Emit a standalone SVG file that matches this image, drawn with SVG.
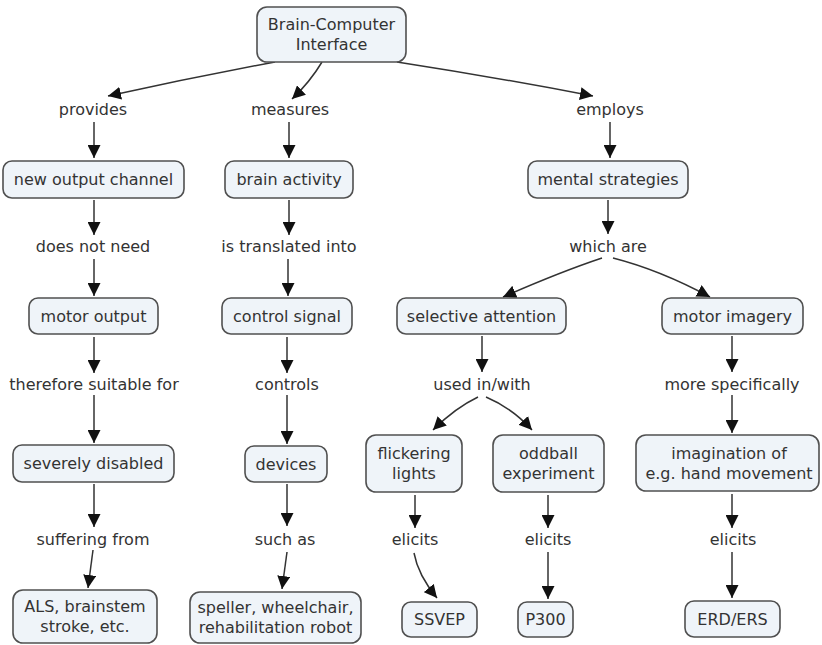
<svg xmlns="http://www.w3.org/2000/svg" width="822" height="645" viewBox="0 0 822 645">
  <style>
    .node rect { fill: #eff4f9; stroke: #505050; stroke-width: 1.6; }
    .node text, .label { font-family: "DejaVu Sans", Verdana, sans-serif; font-size: 16px; fill: #333; text-anchor: middle; }
    .edges path { fill: none; stroke: #333; stroke-width: 1.5; marker-end: url(#arrow); }
  </style>
  <defs>
    <marker id="arrow" viewBox="0 0 12 12" refX="12" refY="6" markerWidth="13" markerHeight="13" markerUnits="userSpaceOnUse" orient="auto">
      <path d="M0,0 L12,6 L0,12 z" fill="#111"/>
    </marker>
  </defs>
  <rect width="822" height="645" fill="#fff"/>

  <!-- connectors -->
  <g class="edges">
    <path d="M275,62 Q190,78 108,96"/>
    <path d="M322,62 Q310,82 292,99"/>
    <path d="M397,62 Q500,78 593,96"/>
    <path d="M94,122 L94,158"/>
    <path d="M289,122 L289,158"/>
    <path d="M610,122 L610,158"/>
    <path d="M94,200 L94,235"/>
    <path d="M289,200 L289,235"/>
    <path d="M608,200 L608,234"/>
    <path d="M94,259 L94,296"/>
    <path d="M288,259 L288,296"/>
    <path d="M602,258 Q560,272 503,297"/>
    <path d="M613,258 Q660,270 710,297"/>
    <path d="M94,337 L94,373"/>
    <path d="M287,337 L287,373"/>
    <path d="M482,336 L482,372"/>
    <path d="M732,336 L732,372"/>
    <path d="M94,395 L94,443"/>
    <path d="M287,395 L287,444"/>
    <path d="M478,397 Q455,408 433,430"/>
    <path d="M486,397 Q512,408 532,430"/>
    <path d="M732,395 L732,433"/>
    <path d="M94,484 L94,527"/>
    <path d="M287,484 L287,526"/>
    <path d="M415,495 L415,528"/>
    <path d="M548,495 L548,528"/>
    <path d="M732,494 L732,528"/>
    <path d="M93,550 L88,588"/>
    <path d="M287,552 L282,589"/>
    <path d="M414,553 Q418,575 437,598"/>
    <path d="M548,552 L548,599"/>
    <path d="M732,552 L732,598"/>
  </g>

  <!-- linking phrases -->
  <g id="labels">
    <text class="label" x="93" y="115">provides</text>
    <text class="label" x="290" y="115">measures</text>
    <text class="label" x="610" y="115">employs</text>
    <text class="label" x="93" y="252">does not need</text>
    <text class="label" x="289" y="252">is translated into</text>
    <text class="label" x="608" y="252">which are</text>
    <text class="label" x="94" y="390">therefore suitable for</text>
    <text class="label" x="287" y="390">controls</text>
    <text class="label" x="482" y="390">used in/with</text>
    <text class="label" x="732" y="390">more specifically</text>
    <text class="label" x="93" y="545">suffering from</text>
    <text class="label" x="285" y="545">such as</text>
    <text class="label" x="415" y="545">elicits</text>
    <text class="label" x="548" y="545">elicits</text>
    <text class="label" x="733" y="545">elicits</text>
  </g>

  <!-- concepts -->
  <g id="bci" class="node">
    <rect x="257" y="7" width="149" height="55" rx="10"/>
    <text x="331.5" y="30">Brain-Computer</text>
    <text x="331.5" y="50">Interface</text>
  </g>
  <g id="new-output-channel" class="node">
    <rect x="3" y="161" width="181" height="37" rx="9"/>
    <text x="93.5" y="185">new output channel</text>
  </g>
  <g id="brain-activity" class="node">
    <rect x="225" y="161" width="128" height="37" rx="9"/>
    <text x="289" y="185">brain activity</text>
  </g>
  <g id="mental-strategies" class="node">
    <rect x="528" y="161" width="160" height="37" rx="9"/>
    <text x="608" y="185">mental strategies</text>
  </g>
  <g id="motor-output" class="node">
    <rect x="29" y="298" width="129" height="36" rx="9"/>
    <text x="93.5" y="321.5">motor output</text>
  </g>
  <g id="control-signal" class="node">
    <rect x="222" y="298" width="130" height="36" rx="9"/>
    <text x="287" y="321.5">control signal</text>
  </g>
  <g id="selective-attention" class="node">
    <rect x="397" y="298" width="169" height="36" rx="9"/>
    <text x="481.5" y="321.5">selective attention</text>
  </g>
  <g id="motor-imagery" class="node">
    <rect x="662" y="298" width="141" height="36" rx="9"/>
    <text x="732.5" y="321.5">motor imagery</text>
  </g>
  <g id="severely-disabled" class="node">
    <rect x="13" y="445" width="161" height="37" rx="9"/>
    <text x="93.5" y="469">severely disabled</text>
  </g>
  <g id="devices" class="node">
    <rect x="245" y="446" width="82" height="36" rx="9"/>
    <text x="286" y="469.5">devices</text>
  </g>
  <g id="flickering-lights" class="node">
    <rect x="366" y="435" width="96" height="57" rx="10"/>
    <text x="414" y="459">flickering</text>
    <text x="414" y="479">lights</text>
  </g>
  <g id="oddball-experiment" class="node">
    <rect x="493" y="435" width="111" height="57" rx="10"/>
    <text x="548.5" y="459">oddball</text>
    <text x="548.5" y="479">experiment</text>
  </g>
  <g id="hand-movement" class="node">
    <rect x="636" y="435" width="183" height="56" rx="10"/>
    <text x="729" y="459">imagination of</text>
    <text x="729" y="479">e.g. hand movement</text>
  </g>
  <g id="als" class="node">
    <rect x="13" y="590" width="144" height="53" rx="10"/>
    <text x="85" y="612">ALS, brainstem</text>
    <text x="85" y="632">stroke, etc.</text>
  </g>
  <g id="speller" class="node">
    <rect x="190" y="592" width="171" height="51" rx="10"/>
    <text x="275.5" y="613">speller, wheelchair,</text>
    <text x="275.5" y="633">rehabilitation robot</text>
  </g>
  <g id="ssvep" class="node">
    <rect x="402" y="602" width="75" height="35" rx="9"/>
    <text x="439.5" y="625">SSVEP</text>
  </g>
  <g id="p300" class="node">
    <rect x="518" y="602" width="55" height="35" rx="9"/>
    <text x="545.5" y="625">P300</text>
  </g>
  <g id="erd-ers" class="node">
    <rect x="685" y="601" width="95" height="36" rx="9"/>
    <text x="732.5" y="624.5">ERD/ERS</text>
  </g>
</svg>
